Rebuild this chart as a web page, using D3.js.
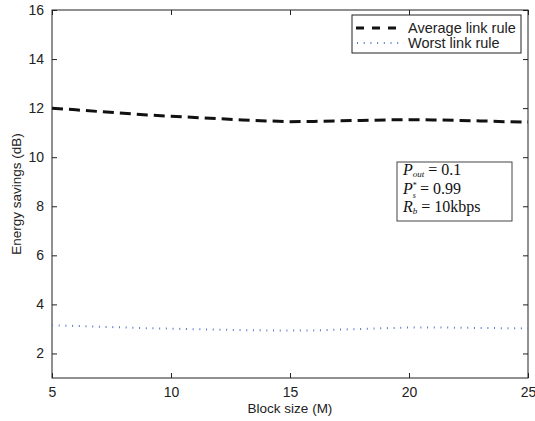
<!DOCTYPE html>
<html>
<head>
<meta charset="utf-8">
<script src="https://cdn.jsdelivr.net/npm/d3@7"></script>
<style>
  body { margin: 0; background: #fff; }
  svg text { font-family: "Liberation Sans", Arial, sans-serif; }
  .math { font-family: "Liberation Serif", "DejaVu Serif", serif; }
</style>
</head>
<body>
<svg id="chart" width="535" height="421"></svg>
<script>
// block sizes on the x axis
const blockSizes = [5, 6, 7, 8, 9, 10, 11, 12, 13, 14, 15, 16, 17, 18, 19, 20, 21, 22, 23, 24, 25];
// energy savings, average link rule (dB)
const averageRule = [12.0, 11.93, 11.86, 11.79, 11.72, 11.67, 11.62, 11.57, 11.52, 11.48, 11.45, 11.46, 11.48, 11.5, 11.52, 11.53, 11.52, 11.5, 11.48, 11.45, 11.43];
// energy savings, worst link rule (dB)
const worstRule = [3.15, 3.12, 3.09, 3.06, 3.03, 3.01, 2.99, 2.97, 2.95, 2.94, 2.93, 2.94, 2.97, 3.0, 3.03, 3.06, 3.06, 3.05, 3.04, 3.03, 3.02];
const xTicks = [5, 10, 15, 20, 25];
const yTicks = [2, 4, 6, 8, 10, 12, 14, 16];

(function () {
  const svg = d3.select('#chart');
  const left = 52, right = 528, top = 10, bottom = 378;

  const x = d3.scaleLinear().domain([5, 25]).range([left, right]);
  const y = d3.scaleLinear().domain([1, 16]).range([bottom, top]);

  // plot frame
  svg.append('rect')
    .attr('x', left).attr('y', top)
    .attr('width', right - left).attr('height', bottom - top)
    .attr('fill', 'none').attr('stroke', '#222').attr('stroke-width', 1);

  // axes, ticks pointing inward, mirrored on top and right
  const styleAxis = (g) => {
    g.select('.domain').remove();
    g.selectAll('line').attr('stroke', '#222');
    g.selectAll('text').attr('fill', '#222').style('font-size', '14px');
  };
  svg.append('g').attr('transform', `translate(0,${bottom})`)
    .call(d3.axisBottom(x).tickValues(xTicks).tickSizeInner(-5).tickSizeOuter(0).tickPadding(9))
    .call(styleAxis);
  svg.append('g').attr('transform', `translate(0,${top})`)
    .call(d3.axisTop(x).tickValues(xTicks).tickSizeInner(-5).tickSizeOuter(0).tickFormat(''))
    .call(styleAxis);
  svg.append('g').attr('transform', `translate(${left},0)`)
    .call(d3.axisLeft(y).tickValues(yTicks).tickSizeInner(-5).tickSizeOuter(0).tickPadding(8))
    .call(styleAxis);
  svg.append('g').attr('transform', `translate(${right},0)`)
    .call(d3.axisRight(y).tickValues(yTicks).tickSizeInner(-5).tickSizeOuter(0).tickFormat(''))
    .call(styleAxis);

  // axis labels
  svg.append('text')
    .attr('x', (left + right) / 2).attr('y', 413)
    .attr('text-anchor', 'middle').style('font-size', '13.5px').attr('fill', '#222')
    .text('Block size (M)');
  svg.append('text')
    .attr('transform', `translate(21,${(top + bottom) / 2}) rotate(-90)`)
    .attr('text-anchor', 'middle').style('font-size', '13.5px').attr('fill', '#222')
    .text('Energy savings (dB)');

  const line = (vals) => d3.line()
    .x((d, i) => x(blockSizes[i]))
    .y((d) => y(d))(vals);

  svg.append('path')
    .attr('d', line(averageRule))
    .attr('fill', 'none').attr('stroke', '#111').attr('stroke-width', 3)
    .attr('stroke-dasharray', '11,6');

  svg.append('path')
    .attr('d', line(worstRule))
    .attr('fill', 'none').attr('stroke', '#5577cc').attr('stroke-width', 2)
    .attr('stroke-dasharray', '1,5.7');

  // legend
  const lg = svg.append('g');
  lg.append('rect')
    .attr('x', 352).attr('y', 15).attr('width', 169).attr('height', 38)
    .attr('fill', '#fff').attr('stroke', '#222').attr('stroke-width', 1);
  lg.append('line')
    .attr('x1', 356).attr('x2', 404).attr('y1', 28).attr('y2', 28)
    .attr('stroke', '#111').attr('stroke-width', 3).attr('stroke-dasharray', '8,8');
  lg.append('line')
    .attr('x1', 357).attr('x2', 404).attr('y1', 43).attr('y2', 43)
    .attr('stroke', '#5577cc').attr('stroke-width', 2).attr('stroke-dasharray', '1,5.7');
  lg.append('text').attr('x', 408).attr('y', 33)
    .style('font-size', '14.5px').attr('fill', '#222').text('Average link rule');
  lg.append('text').attr('x', 408).attr('y', 48)
    .style('font-size', '14.5px').attr('fill', '#222').text('Worst link rule');

  // parameter box
  const pb = svg.append('g');
  pb.append('rect')
    .attr('x', 397).attr('y', 162).attr('width', 115).attr('height', 59)
    .attr('fill', '#fff').attr('stroke', '#444').attr('stroke-width', 1);
  const t1 = pb.append('text').attr('class', 'math').attr('x', 403).attr('y', 175).style('font-size', '16px').attr('fill', '#111');
  t1.append('tspan').style('font-style', 'italic').text('P');
  t1.append('tspan').style('font-style', 'italic').style('font-size', '9px').attr('dy', 2).text('out');
  t1.append('tspan').attr('dy', -2).text(' = 0.1');
  const t2 = pb.append('text').attr('class', 'math').attr('x', 403).attr('y', 194).style('font-size', '16px').attr('fill', '#111');
  t2.append('tspan').style('font-style', 'italic').text('P');
  t2.append('tspan').style('font-size', '8px').attr('dy', -6).text('*');
  t2.append('tspan').style('font-style', 'italic').style('font-size', '8px').attr('dx', -4).attr('dy', 10).text('s');
  t2.append('tspan').attr('dy', -4).text(' = 0.99');
  const t3 = pb.append('text').attr('class', 'math').attr('x', 403).attr('y', 212).style('font-size', '16px').attr('fill', '#111');
  t3.append('tspan').style('font-style', 'italic').text('R');
  t3.append('tspan').style('font-style', 'italic').style('font-size', '9px').attr('dy', 2).text('b');
  t3.append('tspan').attr('dy', -2).text(' = 10kbps');
})();
</script>
</body>
</html>
